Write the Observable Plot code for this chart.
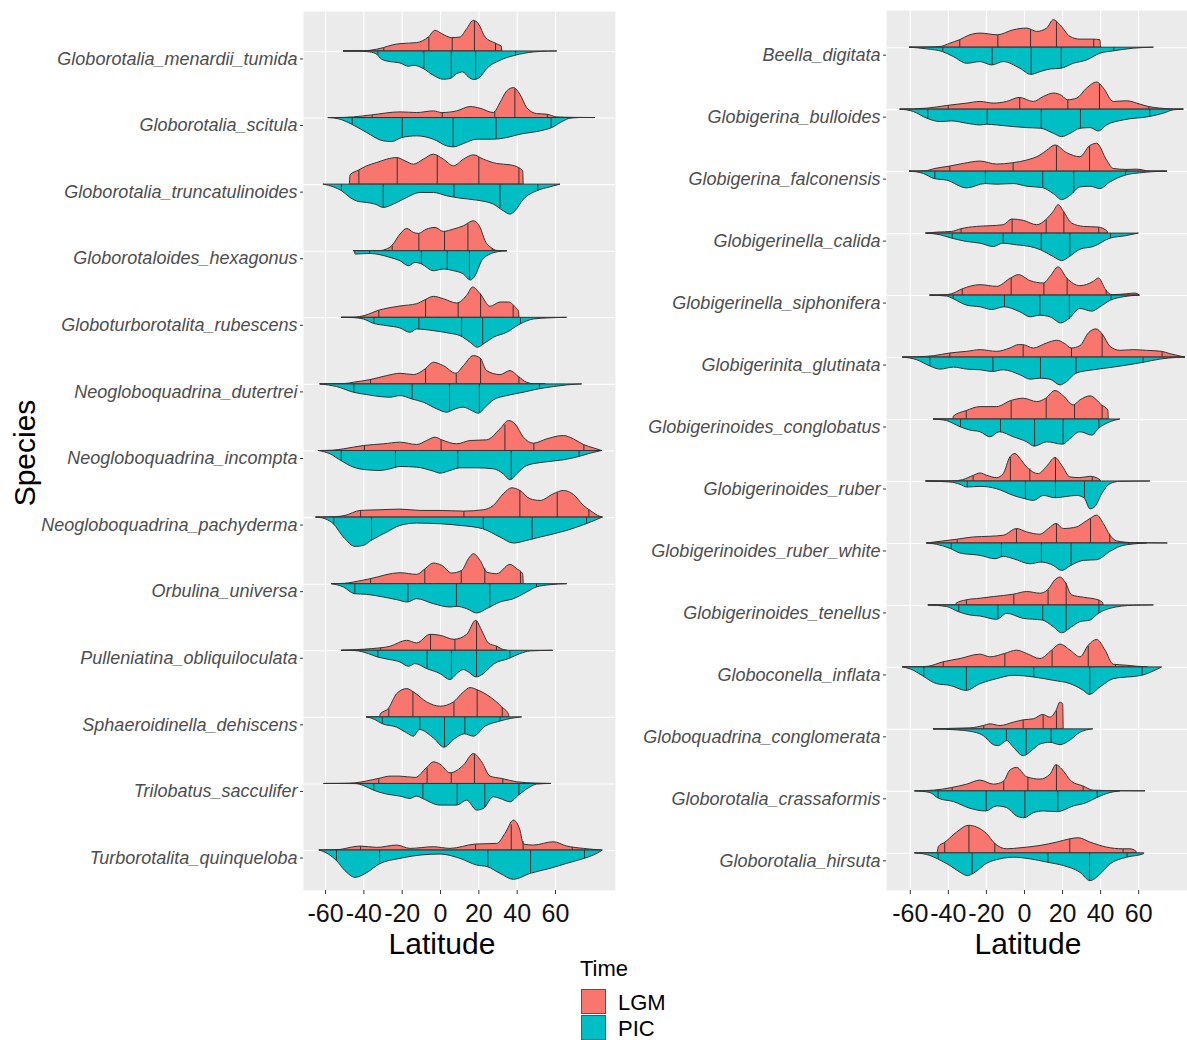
<!DOCTYPE html>
<html>
<head>
<meta charset="utf-8">
<script src="https://cdn.jsdelivr.net/npm/d3@7"></script>
<script src="https://cdn.jsdelivr.net/npm/@observablehq/plot@0.6"></script>
<style>
  html, body { margin: 0; padding: 0; background: #ffffff; }
  #chart { position: relative; width: 1187px; height: 1040px; overflow: hidden; background: #ffffff;
           font-family: "Liberation Sans", Arial, Helvetica, sans-serif; }
  .panel { position: absolute; top: 0; }
  .panel svg { overflow: visible; }
  .panel g[aria-label="y-axis tick label"] { font-style: italic; fill: #4D4D4D; }
  .panel g[aria-label="x-axis tick label"] { fill: #111111; }
  .title { position: absolute; color: #000; white-space: nowrap; line-height: 1; }
  .key { position: absolute; width: 25px; height: 25px; box-sizing: border-box; border: 0.6px solid #555; }
</style>
</head>
<body>
<div id="chart">
  <div id="left" class="panel" style="left:0px"></div>
  <div id="right" class="panel" style="left:560px"></div>
  <div class="title" style="left:25px; top:453px; font-size:30px; transform:translate(-50%,-50%) rotate(-90deg);">Species</div>
  <div class="title" style="left:442px; top:944px; font-size:30px; transform:translate(-50%,-50%);">Latitude</div>
  <div class="title" style="left:1028px; top:944px; font-size:30px; transform:translate(-50%,-50%);">Latitude</div>
  <div class="title" style="left:580px; top:958px; font-size:22px;">Time</div>
  <div class="key" style="left:581px; top:989px; background:#F8766D;"></div>
  <div class="key" style="left:581px; top:1015px; background:#00BFC4;"></div>
  <div class="title" style="left:618px; top:992px; font-size:22px;">LGM</div>
  <div class="title" style="left:618px; top:1018px; font-size:22px;">PIC</div>
</div>
<script>
// Latitude ticks shared by both panels
const latTicks = [-60, -40, -20, 0, 20, 40, 60];
const times = ["LGM", "PIC"];
const timeColors = ["#F8766D", "#00BFC4"];

// ---------- Left panel ----------
const leftSpecies = [
  "Globorotalia_menardii_tumida", "Globorotalia_scitula", "Globorotalia_truncatulinoides",
  "Globorotaloides_hexagonus", "Globoturborotalita_rubescens", "Neogloboquadrina_dutertrei",
  "Neogloboquadrina_incompta", "Neogloboquadrina_pachyderma", "Orbulina_universa",
  "Pulleniatina_obliquiloculata", "Sphaeroidinella_dehiscens", "Trilobatus_sacculifer",
  "Turborotalita_quinqueloba"
];

// Density profiles: [latitude, relative density]
const leftLGM = [
  [[-50.4,0],[-40,0.5],[-36.5,2],[-29.6,10],[-25,18],[-20.9,22],[-12.2,25],[-6.1,42],[-2.6,62],[0.9,52],[6.1,40],[10.4,42],[13.9,67],[17.4,92],[20,82],[23.5,42],[28.7,24],[31.3,17],[31.8,16],[32.3,0]],
  [[-58.3,0],[-50,0.5],[-45.2,2],[-35.7,8],[-20.9,17],[-12.2,15],[-3.5,20],[0.9,15],[8.7,20],[15.7,33],[20.9,28],[27.8,15],[31.3,45],[34.8,80],[38.3,90],[41.7,70],[45.2,30],[50.4,12],[55.7,10],[60.9,2],[70,0.5],[80.9,0]],
  [[-47.3,0],[-47,28],[-42.6,42],[-38.3,55],[-33,65],[-27.8,75],[-22.6,80],[-18.3,70],[-13.9,60],[-8.7,75],[-3.5,90],[1.7,75],[7,55],[12.2,75],[17.4,88],[22.6,75],[29.6,62],[36.5,58],[40.9,50],[43.1,40],[43.4,0]],
  [[-45.2,0],[-31.3,0.5],[-28,5],[-25.2,15],[-20.9,50],[-17.4,67],[-13.9,55],[-11.3,52],[-7,65],[-2.6,70],[1.7,58],[7,65],[12.2,75],[17.4,90],[20.9,70],[23.5,30],[27,8],[29.6,1],[34.8,0]],
  [[-51.3,0],[-45,0.5],[-39.1,6],[-32.2,21],[-20.9,34],[-12.2,41],[-7.8,53],[-3.5,63],[1.7,56],[8.7,43],[13.9,66],[17,91],[20.9,71],[26.1,33],[31.3,46],[35.7,46],[40,26],[40.9,20],[41.2,0]],
  [[-62.6,0],[-50,1],[-45.2,5],[-36.5,13],[-27.8,25],[-20.9,32],[-13.9,28],[-7.8,45],[-3.5,65],[1.7,55],[8.2,32],[12.2,55],[17.4,85],[20.9,78],[24.3,40],[31.3,28],[36.5,40],[40.9,22],[45.2,5],[48.7,0.5],[55,0]],
  [[-63.5,0],[-56,1],[-50.4,5],[-40,15],[-29.6,20],[-20.9,25],[-12.2,18],[-7,30],[-2.6,40],[0.9,32],[8.7,20],[15.7,30],[24.3,32],[31.3,65],[35.7,90],[39.1,80],[43.5,40],[48.7,22],[55.7,35],[64.3,45],[69.6,35],[74.8,18],[80,8],[84.3,0]],
  [[-64.7,0],[-55,1],[-49.6,5],[-41.7,20],[-31.3,22],[-20.9,24],[-10.4,20],[0,20],[12.2,18],[22.6,22],[27.8,35],[33,70],[37.4,88],[41.7,80],[47,55],[52.2,50],[59.1,70],[64.3,80],[69.6,68],[74.8,35],[78.3,20],[83.5,2],[84.7,0]],
  [[-56.5,0],[-50,1],[-45.2,5],[-36.5,15],[-20.9,33],[-12.2,28],[-7.8,45],[-3.5,62],[0.9,55],[6.1,32],[11.3,40],[14.8,75],[17.4,90],[20.9,70],[24.3,35],[29.6,30],[36.5,58],[40,45],[43.1,30],[43.4,0]],
  [[-51.3,0],[-43.5,2],[-35.7,5],[-26.1,12],[-17.4,30],[-12.2,22],[-5.2,48],[0,45],[7.3,33],[13.9,48],[18.6,90],[21.7,60],[25.2,22],[29.6,12],[33,2],[35,0]],
  [[-38.3,0],[-31.6,0],[-31.3,8],[-27,25],[-22.6,70],[-17.4,85],[-13.9,75],[-7,45],[0,32],[7,45],[12.2,75],[15.7,88],[19.1,82],[26.1,60],[32.2,30],[35.7,8],[36,0]],
  [[-60.5,0],[-50,0.5],[-44.3,2],[-32.2,15],[-26.1,22],[-20.9,22],[-13,18],[-7,48],[-3.5,65],[0,58],[5.2,32],[12.2,55],[17.4,90],[21.7,65],[26.1,22],[32.2,15],[40,5],[50,1],[57.7,0]],
  [[-63,0],[-52,2],[-47,8],[-41.7,12],[-33,8],[-22.6,15],[-15.7,5],[-3.5,10],[5.2,5],[18.3,18],[29.6,20],[33.9,50],[38.3,90],[41.7,60],[43.5,18],[48.7,15],[59.1,25],[66.1,12],[74.8,5],[84.3,0]]
];
const leftPIC = [
  [[-50.4,0],[-42.6,0.5],[-38,2],[-33.5,8],[-30.4,25],[-26.1,32],[-20.9,36],[-16.5,46],[-13.9,43],[-8.7,53],[-3.5,73],[1.7,85],[5.2,83],[8.7,68],[11.8,63],[14.8,78],[17.7,86],[20.9,78],[24.3,53],[31.3,28],[39.1,13],[48.7,3],[56.5,0.5],[60.9,0]],
  [[-58.3,0],[-52.2,5],[-46.1,20],[-38.3,45],[-29.6,70],[-25.2,72],[-20,60],[-12.2,55],[-3.5,65],[3.5,85],[7,88],[12.2,78],[19.1,65],[27.8,65],[34.8,60],[41.7,50],[52.2,40],[58.3,30],[64.3,10],[67.8,2],[72,0]],
  [[-60.9,0],[-55.7,8],[-51.3,20],[-47,40],[-42.6,52],[-38.3,55],[-33.9,60],[-29.6,70],[-24.3,60],[-17.4,40],[-10.4,25],[-3.5,25],[3.5,35],[10.4,42],[19.1,48],[27.8,60],[33,80],[36.5,90],[39.1,80],[43.5,45],[50.4,20],[57.4,8],[62.6,0]],
  [[-44.6,0],[-44.3,10],[-40,9],[-36.5,8],[-31.3,12],[-26.1,20],[-20.9,30],[-16.5,45],[-13,35],[-9.6,40],[-3.5,60],[1.7,55],[7,60],[12.2,70],[15.7,88],[18.3,75],[21.7,30],[26.1,10],[30,3],[34.8,0]],
  [[-51.3,0],[-45,1],[-40,5],[-34.8,18],[-27.8,25],[-20.9,32],[-15.7,45],[-12.2,35],[-3.5,40],[5.2,48],[10.4,55],[15.7,75],[19.5,90],[22.6,80],[27.8,60],[34.8,45],[41.7,20],[48.7,5],[55.7,2],[66,0]],
  [[-62.6,0],[-53.9,8],[-45.2,25],[-38.3,32],[-31.3,38],[-26.1,40],[-20.9,35],[-14.8,45],[-8.7,55],[-1.7,75],[3.5,85],[7.8,75],[12.2,70],[16.5,80],[20,88],[23.5,70],[27.8,48],[34.8,35],[43.5,25],[51.3,15],[59.1,8],[66,3],[73.9,0]],
  [[-63.5,0],[-57.4,10],[-51.8,30],[-45.2,50],[-38.3,58],[-31.3,60],[-26.1,55],[-20.9,48],[-12.2,50],[-3.5,62],[0,68],[5.2,60],[10.4,52],[19.1,52],[27.8,55],[33,70],[36.5,88],[40,70],[45.2,45],[53.9,35],[64.3,28],[72.3,18],[78.3,8],[84.3,0]],
  [[-64.7,0],[-60,5],[-55.7,20],[-50.4,60],[-44.3,88],[-40,85],[-36,70],[-27.8,45],[-20.9,25],[-12.2,18],[0,20],[10.4,25],[22.3,35],[31.3,60],[38.3,78],[45.2,70],[52.2,60],[66.1,40],[76.2,20],[84.7,0]],
  [[-56.5,0],[-50.4,10],[-44.7,30],[-38.3,32],[-29.6,40],[-22.6,48],[-17,55],[-12.2,45],[-3.5,60],[5.2,70],[8.7,68],[13.9,75],[19.1,88],[24.3,75],[31.3,55],[38.3,45],[45.2,25],[50.1,10],[57.4,3],[66.1,0]],
  [[-51.3,0],[-44.3,1],[-37.4,10],[-32.7,20],[-26.1,28],[-20.9,35],[-16.5,48],[-13,40],[-7,55],[0,70],[5.2,88],[8.7,70],[12.2,58],[14.8,65],[18.8,80],[22.6,70],[27.8,42],[35.7,25],[41.7,10],[47,2],[58.8,0]],
  [[-38.3,0],[-34,8],[-30.4,20],[-22.6,31],[-17.4,48],[-13.9,58],[-10.8,38],[-3.5,63],[2.1,91],[7,68],[12.7,51],[17.4,58],[23.5,28],[31,13],[36.5,5],[42.6,0]],
  [[-60.5,0],[-44.3,0.5],[-40,6],[-34.8,20],[-27.8,32],[-20.9,38],[-15.7,45],[-12.2,38],[-9.2,45],[0,65],[8.7,65],[13.9,50],[19.1,80],[22.6,75],[27.8,40],[31.3,45],[36.5,55],[40.9,35],[47,10],[50.4,2],[57.7,0]],
  [[-63,0],[-58.3,12],[-54.3,30],[-49.6,62],[-44.3,82],[-38.3,68],[-31.8,42],[-20.9,25],[-10.4,15],[0,12],[10.4,25],[19.1,45],[24.7,50],[31.3,70],[38.3,88],[47,70],[57.4,55],[66.1,40],[75.1,25],[80,15],[84.7,0]]
];
// Quantile latitudes drawn inside each half
const leftLGMq = [
  [-29.6,-6.1,6.1,17.7,28.7], [-35.7,0.9,28.3,38.8,55.7], [-42.6,-22.6,-1.7,20,40.9],
  [-25.2,-11.3,2.1,14.3,27], [-32.2,-7.8,9.2,20.9,37.9], [-36.5,-7.8,8.2,20.9,40.9],
  [-39.7,0.3,33.6,48.7,74.8], [-41.7,12.2,41.4,60.9,77.4], [-36.5,-8.2,10.8,23.1,41.7],
  [-31.3,-5.2,7.5,18.8,29.2], [-27,-14.4,7,19.1,32.2], [-32.2,-7,5.6,17.7,32.5],
  [-41.7,18.3,36.9,43.1,68.7]
];
const leftPICq = [
  [-32.7,-8.7,5.6,18.3,39.1], [-46.1,-20,6.6,29,57.7], [-51.7,-29.9,7,31,50.8],
  [-37,-10,3.5,15.1], [-34.8,-11.3,11,22,41.7], [-45.2,-14.8,4.7,20.3,51.7],
  [-51.8,-23.5,9,36.9,72.3], [-55.7,-36,22.3,47.8,76.2], [-44.7,-17,8.3,25.7,50.1],
  [-32.7,-7,5.7,18.8,36.2], [-30.4,-10.8,2.1,12.7,31], [-34.8,-9.2,8.7,23.1,40.9],
  [-54.3,-31.8,24.7,47,75.1]
];

// ---------- Right panel ----------
const rightSpecies = [
  "Beella_digitata", "Globigerina_bulloides", "Globigerina_falconensis", "Globigerinella_calida",
  "Globigerinella_siphonifera", "Globigerinita_glutinata", "Globigerinoides_conglobatus",
  "Globigerinoides_ruber", "Globigerinoides_ruber_white", "Globigerinoides_tenellus",
  "Globoconella_inflata", "Globoquadrina_conglomerata", "Globorotalia_crassaformis",
  "Globorotalia_hirsuta"
];
const rightLGM = [
  [[-60.2,0],[-50,0.5],[-44.1,2],[-38.9,12],[-34,22],[-28.4,37],[-23.1,42],[-14,37],[-5.6,52],[1.4,57],[6.7,47],[11.9,57],[15.4,82],[18.9,67],[24.2,32],[29.4,24],[36.4,24],[39.9,22],[40.2,0]],
  [[-65.1,0],[-51.1,3],[-40.6,11],[-30.1,18],[-23.1,23],[-16.1,18],[-9.1,23],[-2.5,35],[4.9,23],[10.2,38],[15.4,48],[19.8,41],[22.8,28],[27.7,33],[32.9,63],[38.2,81],[41.7,63],[46.9,23],[53.9,25],[60.9,15],[65.3,8],[71.5,3],[78.5,0.5],[83.7,0]],
  [[-60.2,0],[-52,1],[-46.8,8],[-39.2,15],[-31.9,23],[-23.1,30],[-14.4,21],[-6,25],[1.4,33],[8.4,48],[11.9,62],[16.3,78],[22.4,55],[29.4,43],[34.3,75],[38.2,83],[43.4,33],[46.9,8],[53.9,5],[59.2,6],[66.2,0],[75,0]],
  [[-51.5,0],[-45.5,3],[-38,5],[-33.3,13],[-24.9,20],[-17.9,22],[-10.9,25],[-6.5,42],[-0.4,38],[6.7,25],[11.4,40],[15.4,65],[18,85],[20.7,65],[25,30],[31.2,20],[39.1,18],[43.8,5],[44,0]],
  [[-49.4,0],[-42,1],[-38,4],[-32.7,18],[-23.1,31],[-14.4,26],[-7,51],[-3,61],[3.2,43],[10.2,36],[13.7,56],[18,84],[22.4,51],[29.4,28],[36.4,41],[39.1,51],[42.9,16],[46.1,1],[53.9,4],[58.3,6],[60.6,0]],
  [[-63.7,0],[-55,1],[-47.6,4],[-39.2,12],[-30.1,17],[-23.1,22],[-14.4,17],[-7.4,27],[-3,37],[-0.7,37],[4.9,27],[11.9,42],[17.2,50],[21.5,40],[24.7,27],[29.4,34],[33.8,72],[37.8,84],[41.3,67],[45.2,32],[50.4,20],[57.4,22],[64.4,20],[72.3,17],[76.7,10],[82.8,2],[84.6,0]],
  [[-47.6,0],[-37.4,0],[-37.1,9],[-30.5,25],[-23.1,37],[-14.4,37],[-7,55],[-0.4,62],[6.7,52],[11.4,62],[16.3,85],[20.7,69],[25.9,42],[29.4,57],[34.7,69],[40.8,42],[44,27],[44.3,0]],
  [[-51.5,0],[-38,0],[-32.2,4],[-26.6,17],[-23.1,24],[-19.6,17],[-14.4,10],[-10.9,22],[-7.4,72],[-4.7,82],[-2.1,67],[1.4,42],[7.5,22],[11.9,44],[16.3,70],[19.8,47],[24.2,12],[29.4,10],[34.7,14],[39.9,4],[40.2,0]],
  [[-51.1,0],[-46.8,3],[-35.4,11],[-26.6,18],[-17.9,20],[-10.9,23],[-3.9,43],[1.4,33],[8.4,26],[12.8,43],[16.8,58],[20.7,43],[27.7,48],[31.2,60],[34.7,73],[38.2,83],[41.7,58],[45.2,23],[48.7,6],[57.4,1],[75.3,0]],
  [[-50.3,0],[-36,0],[-35.7,5],[-30.5,15],[-23.1,20],[-16.1,25],[-5.6,32],[1.4,40],[8.4,35],[12.4,45],[16.3,75],[18.9,83],[21.9,65],[25,30],[31.2,23],[39.1,15],[41.3,7],[41.6,0]],
  [[-63.7,0],[-55,0.5],[-50.3,2],[-42.7,15],[-33.6,25],[-23.1,38],[-17.9,30],[-10.3,40],[-3.9,50],[1.4,40],[8.4,25],[14.5,50],[18.9,68],[24.2,50],[29.4,30],[33.8,65],[38.2,82],[42.6,50],[46.9,8],[53.9,5],[59.2,2],[65,0]],
  [[-47.6,0],[-35.4,2],[-28.4,3],[-21.4,10],[-17.9,15],[-12.6,10],[-5.6,20],[-0.4,27],[4.9,30],[9.8,43],[13.7,35],[16.8,55],[18.9,80],[20.3,75],[20.6,0]],
  [[-57.3,0],[-47.6,2],[-38,10],[-30.1,20],[-23.1,32],[-16.1,20],[-10.9,28],[-7.4,62],[-3.9,70],[1.4,42],[8.4,35],[13.7,50],[16.8,78],[19.8,65],[25,28],[30.8,15],[36.4,2],[50,0.5],[63.6,0]],
  [[-57.3,0],[-45.8,0],[-45.5,5],[-45,19],[-41.5,32],[-35.4,62],[-29.2,82],[-24.9,77],[-19.6,57],[-15.2,27],[-9.1,12],[-2.1,15],[8.4,22],[17.2,32],[24.2,42],[28.5,45],[34.7,32],[43.4,17],[51.8,12],[55.7,12],[58.8,5],[59.1,0]]
];
const rightPIC = [
  [[-60.2,0],[-51.1,5],[-42.9,13],[-37.1,28],[-30.1,48],[-23.1,43],[-17,53],[-10.9,43],[-2.1,63],[3.5,81],[8.4,73],[13.7,65],[19.3,63],[25.9,48],[32.9,38],[39.9,18],[46.9,11],[57.4,3],[68,0]],
  [[-65.1,0],[-58.1,7],[-51.1,27],[-44.1,37],[-38,35],[-30.1,42],[-23.1,47],[-19.6,45],[-14.4,47],[-5.6,52],[1.4,55],[8.8,57],[15.4,72],[19.8,82],[24.2,72],[29.4,57],[34.7,55],[39.1,65],[43.4,47],[52.2,32],[65.8,22],[73.2,12],[78.5,2],[83.7,0]],
  [[-60.2,0],[-52.9,7],[-47.3,22],[-40.6,27],[-30.1,50],[-20.5,37],[-14.4,39],[-5.6,37],[1.4,45],[9.6,49],[15.4,67],[19.8,85],[24.2,72],[29.4,47],[34.7,45],[39.9,52],[45.2,32],[53.1,12],[60.9,5],[75,0]],
  [[-51.5,0],[-44.1,5],[-38,15],[-30.1,25],[-23.1,30],[-16.1,40],[-11.2,30],[-3.9,35],[3.2,40],[8.8,50],[15.4,70],[19.8,82],[23.8,70],[29.4,48],[36.4,40],[45.2,15],[53.1,8],[60.1,0]],
  [[-49.4,0],[-40.6,3],[-37.5,10],[-30.1,30],[-23.1,35],[-17,43],[-10.5,35],[-2.1,50],[3.2,65],[8.1,60],[13.7,65],[19.3,83],[23.6,70],[29.4,40],[35.6,48],[39.9,35],[45.5,15],[52.2,5],[60.6,0]],
  [[-63.7,0],[-56.4,8],[-49.7,26],[-44.1,36],[-37.1,30],[-30.1,36],[-23.1,38],[-16.6,43],[-10.9,38],[-2.1,53],[3.2,66],[8.4,63],[13.7,66],[18.9,83],[22.4,73],[27.3,48],[36.4,38],[46.9,30],[62.3,16],[71.5,6],[80.2,1],[84.6,0]],
  [[-47.6,0],[-40.6,5],[-33.6,23],[-28.4,33],[-23.1,38],[-17.9,53],[-13,38],[-5.6,53],[1.4,68],[5.4,81],[11.9,68],[20.3,75],[24.2,58],[29.4,38],[35.6,48],[39.1,28],[45.2,8],[50.4,0]],
  [[-51.5,0],[-38.9,3],[-33.6,10],[-30.1,18],[-23.1,16],[-14.4,23],[-5.6,43],[0.5,53],[4.9,58],[10.2,43],[16.3,50],[22.4,46],[27.7,43],[31.5,50],[34.7,83],[37.3,76],[40.8,38],[45.2,8],[50.4,1],[66.2,0]],
  [[-51.1,0],[-45.9,4],[-38.5,17],[-33.6,30],[-23.1,37],[-15.2,47],[-10.9,40],[-5.6,47],[3.2,62],[8.9,57],[15.4,67],[19.8,82],[24.5,67],[31.2,52],[38.2,50],[45.2,25],[50.4,10],[57.4,3],[64.4,0]],
  [[-50.3,0],[-40.6,5],[-34.5,20],[-28.4,30],[-23.1,33],[-14.4,43],[-9.1,25],[-0.4,40],[9.6,45],[15.4,65],[19.8,83],[25,65],[29.4,50],[34.7,45],[39.1,25],[45.2,10],[57.4,1],[68,0]],
  [[-63.7,0],[-58.1,10],[-52.9,28],[-45.9,50],[-38.9,55],[-30.5,70],[-23.1,50],[-14.4,35],[-5.6,25],[4.9,30],[15.4,40],[24.2,50],[31.2,70],[34.3,82],[39.9,60],[46.9,35],[61.8,25],[68,12],[72.3,0]],
  [[-47.6,0],[-35.4,3],[-28.4,7],[-21.4,20],[-16.1,47],[-13.5,50],[-9.1,35],[-5.6,55],[-0.4,80],[4.9,60],[8.4,45],[13.7,40],[18.9,47],[24.2,33],[29.4,10],[36.1,0]],
  [[-57.3,0],[-49.4,5],[-45,22],[-37.1,32],[-28.4,52],[-20.1,60],[-14.4,45],[-9.1,50],[-3.9,75],[0,80],[4.9,65],[10.2,60],[17.5,62],[25.9,45],[32.9,35],[38.2,20],[45.2,5],[50.4,0]],
  [[-57.3,0],[-49.4,8],[-45.4,18],[-38.9,38],[-33.6,58],[-29.8,68],[-26.6,61],[-19.6,31],[-12.6,18],[-5.6,13],[3.2,18],[12.3,28],[20.7,38],[29.4,58],[34.7,83],[39.1,68],[45.2,33],[53.9,13],[62.7,3],[63,0]]
];
const rightLGMq = [
  [-34,-14,3.2,16.8,36.4], [-40.1,-2.5,22.8,39.4,65.3], [-39.2,-6,16.8,34.2,53.6],
  [-33.3,-6.5,11.4,20.7,39], [-32.7,-7,10.2,22.4,42.9], [-39.2,-0.7,24.7,40.8,72.3],
  [-30.6,-7,11.4,26.3,40.8], [-27,-7.4,2.8,16.3,35.6], [-35.4,-4.2,16.8,34.7,44.8],
  [-30.5,-5.6,12.4,21.9,39.1], [-42.7,-10.3,14.5,33.5,47.8], [-21.4,-0.7,9.8,16.8],
  [-38,-10.9,1.8,16.8,30.8], [-41.9,-29.2,-15.6,23.8,51.8]
];
const rightPICq = [
  [-42.9,-17,3.5,19.3,46.9], [-50.8,-19.6,8.8,29.4,65.8], [-47.1,-20.5,9.6,25.9,53.1],
  [-38,-11.2,8.8,23.8,45.2], [-37.5,-10.5,8.1,23.6,45.5], [-49.7,-16.6,8.4,27.1,62.3],
  [-33.6,-12.6,5.3,20.3,39.1], [-30.1,0.5,16.3,31.5], [-38.5,-12.1,8.9,24.5,54.8],
  [-34.5,-14,9.6,21.9,39.1], [-52.9,-30.5,4.9,34.3,61.8], [-9.5,0.9,14],
  [-45.4,-20.1,0.2,17.5,38.2], [-45.4,-27.5,12.3,34.2,53.9]
];

// Density at a given latitude along a profile (used for quantile segment heights)
function densityAt(profile, lat) {
  for (let i = 1; i < profile.length; i++) {
    const [x0, y0] = profile[i - 1], [x1, y1] = profile[i];
    if (lat >= x0 && lat <= x1) return x1 === x0 ? y1 : y0 + (y1 - y0) * (lat - x0) / (x1 - x0);
  }
  return 0;
}

// Split violins: LGM half above each species line, PIC half below
function splitViolinPanel({species, lgm, pic, lgmQ, picQ, xDomain, width, marginLeft, marginTop, marginBottom, height}) {
  const n = species.length;
  const peak = d3.max([...lgm, ...pic].flat(), d => d[1]);
  const k = 0.46 / peak; // widest half spans 0.46 of a row
  const areas = [], rules = [];
  species.forEach((s, i) => {
    const base = n - i;
    [[times[0], lgm[i], lgmQ[i], 1], [times[1], pic[i], picQ[i], -1]].forEach(([time, profile, qs, sign]) => {
      profile.forEach(([lat, dens]) => areas.push({key: s + "|" + time, time, lat, base, edge: base + sign * dens * k}));
      qs.forEach(q => rules.push({time, lat: q, base, edge: base + sign * densityAt(profile, q) * k}));
    });
  });
  const rowTicks = d3.range(1, n + 1);
  return Plot.plot({
    width, height, marginLeft, marginRight: 0, marginTop, marginBottom,
    style: {background: "none", fontFamily: "'Liberation Sans', Arial, sans-serif", overflow: "visible"},
    x: {domain: xDomain},
    y: {domain: [0.4, n + 0.6]},
    color: {domain: times, range: timeColors},
    marks: [
      Plot.frame({fill: "#EBEBEB", stroke: null}),
      Plot.gridX(latTicks, {stroke: "#ffffff", strokeOpacity: 1, strokeWidth: 1.1}),
      Plot.gridY(rowTicks, {stroke: "#ffffff", strokeOpacity: 1, strokeWidth: 1.1}),
      Plot.areaY(areas, {x: "lat", y1: "base", y2: "edge", z: "key", fill: "time", stroke: "#333333", strokeWidth: 1, curve: "monotone-x"}),
      Plot.ruleX(rules, {x: "lat", y1: "base", y2: "edge", stroke: "#333333", strokeWidth: 1}),
      Plot.axisX(latTicks, {tickSize: 4, tickPadding: 10, fontSize: 25, stroke: "#333333", label: null,
                            tickFormat: d => String(d)}),
      Plot.axisY(rowTicks, {tickSize: 3, tickPadding: 3, fontSize: 18, stroke: "#333333", label: null, dy: 7.5,
                            tickFormat: v => species[n - v]})
    ]
  });
}

document.getElementById("left").append(splitViolinPanel({
  species: leftSpecies, lgm: leftLGM, pic: leftPIC, lgmQ: leftLGMq, picQ: leftPICq,
  xDomain: [-71.5, 91.3], width: 615, marginLeft: 303, marginTop: 11, marginBottom: 40, height: 930
}));
document.getElementById("right").append(splitViolinPanel({
  species: rightSpecies, lgm: rightLGM, pic: rightPIC, lgmQ: rightLGMq, picQ: rightPICq,
  xDomain: [-72.5, 85.65], width: 627, marginLeft: 326, marginTop: 10, marginBottom: 40, height: 930
}));
</script>
</body>
</html>
